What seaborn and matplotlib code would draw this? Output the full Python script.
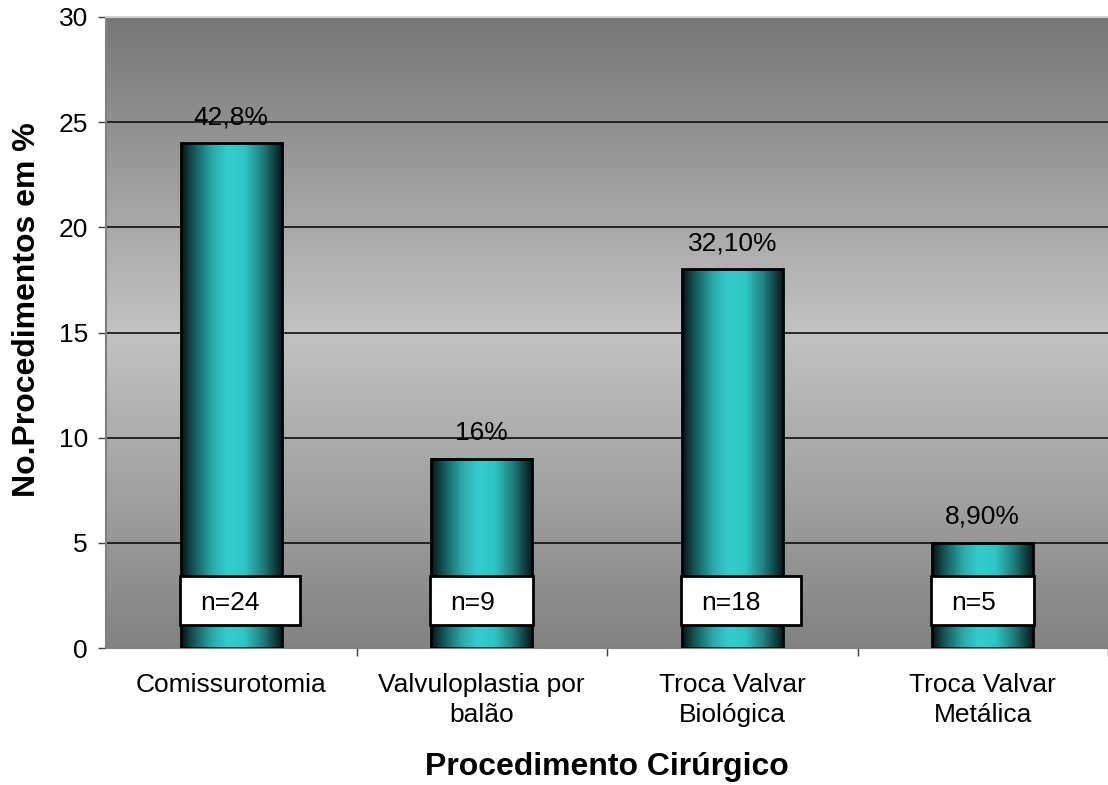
import numpy as np
import pandas as pd
import matplotlib
matplotlib.use("Agg")
import matplotlib.pyplot as plt
from matplotlib.colors import LinearSegmentedColormap
from matplotlib.patches import Rectangle
import seaborn as sns

# Data
procedimentos = ["Comissurotomia", "Valvuloplastia por\nbalão",
                 "Troca Valvar\nBiológica", "Troca Valvar\nMetálica"]
contagens = [24, 9, 18, 5]
percentuais = ["42,8%", "16%", "32,10%", "8,90%"]
rotulos_n = ["n=24", "n=9", "n=18", "n=5"]
yticks = [0, 5, 10, 15, 20, 25, 30]

sns.set_theme(style="white")
plt.rcParams["font.family"] = ["Liberation Sans", "DejaVu Sans"]
plt.rcParams["text.color"] = "black"
plt.rcParams["axes.labelcolor"] = "black"
plt.rcParams["xtick.color"] = "black"
plt.rcParams["ytick.color"] = "black"

fig = plt.figure(figsize=(11.08, 7.85), dpi=100)
ax = fig.add_axes([106 / 1108, 1 - 648 / 785, 1 - 106 / 1108, (648 - 17) / 785])

df = pd.DataFrame({"procedimento": procedimentos, "n": contagens})
sns.barplot(data=df, x="procedimento", y="n", width=0.405, color="#33cccc",
            edgecolor="black", linewidth=2, ax=ax, zorder=3)

# Vertical grey gradient for the plotting area
bg_cmap = LinearSegmentedColormap.from_list(
    "bg", [(0.0, "#777777"), (0.5, "#c2c2c2"), (1.0, "#828282")])
bg = np.linspace(0, 1, 256).reshape(-1, 1)
ax.imshow(bg, extent=[0, 1, 0, 1], transform=ax.transAxes, aspect="auto",
          cmap=bg_cmap, zorder=0, interpolation="bilinear")

# Cylinder-like horizontal shading on the bars
bar_cmap = LinearSegmentedColormap.from_list(
    "bar", [(0.0, "#041212"), (0.12, "#135656"), (0.3, "#28a8a8"),
            (0.45, "#33cccc"), (0.62, "#30c6c6"), (0.8, "#217f7f"),
            (1.0, "#061616")])
grad = np.linspace(0, 1, 256).reshape(1, -1)
for patch in ax.patches:
    x0, y0 = patch.get_x(), patch.get_y()
    w, h = patch.get_width(), patch.get_height()
    ax.imshow(grad, extent=[x0, x0 + w, y0, y0 + h], aspect="auto",
              cmap=bar_cmap, zorder=3.5, interpolation="bilinear")
    patch.set_facecolor("none")
    patch.set_zorder(4)

# Percentage labels above bars
for i, (v, lab) in enumerate(zip(contagens, percentuais)):
    ax.text(i, v + 0.9, lab, ha="center", va="baseline", fontsize=19,
            color="black", zorder=6)

# Count boxes near the base of each bar
for i, lab in enumerate(rotulos_n):
    digits = len(lab) - 2
    bw = 0.41 if digits == 1 else 0.48
    left = i - 0.205
    ax.add_patch(Rectangle((left, 1.1), bw, 2.33, facecolor="white",
                           edgecolor="black", linewidth=2, zorder=5))
    ax.text(left + 0.08, 1.1 + 2.33 / 2, lab, ha="left", va="center_baseline",
            fontsize=19, color="black", zorder=6)

ax.set_xlim(-0.5, 3.5)
ax.set_ylim(0, 30)
ax.set_yticks(yticks)
ax.yaxis.grid(True, color="#1a1a1a", linewidth=1.3)
ax.xaxis.grid(False)
ax.set_axisbelow(True)

ax.spines["right"].set_visible(False)
ax.spines["top"].set_color("#d0d0d0")
ax.spines["top"].set_linewidth(1.5)
for s in ["left", "bottom"]:
    ax.spines[s].set_color("#808080")
    ax.spines[s].set_linewidth(1.5)

ax.tick_params(axis="y", which="major", direction="out", length=6, width=1,
               color="#404040", labelsize=19, pad=7, left=True)
ax.set_xticks([0.5, 1.5, 2.5, 3.5], minor=True)
ax.tick_params(axis="x", which="minor", direction="out", length=6, width=1,
               color="#404040", bottom=True)
ax.tick_params(axis="x", which="major", length=0, labelsize=19, pad=18)
for t in ax.get_xticklabels():
    t.set_linespacing(1.3)

ax.set_xlabel("Procedimento Cirúrgico", fontsize=23, fontweight="bold",
              labelpad=18)
ax.set_ylabel("No.Procedimentos em %", fontsize=23, fontweight="bold")
ax.yaxis.set_label_coords(-0.064, 0.537)

fig.savefig("out.png", dpi=100)
